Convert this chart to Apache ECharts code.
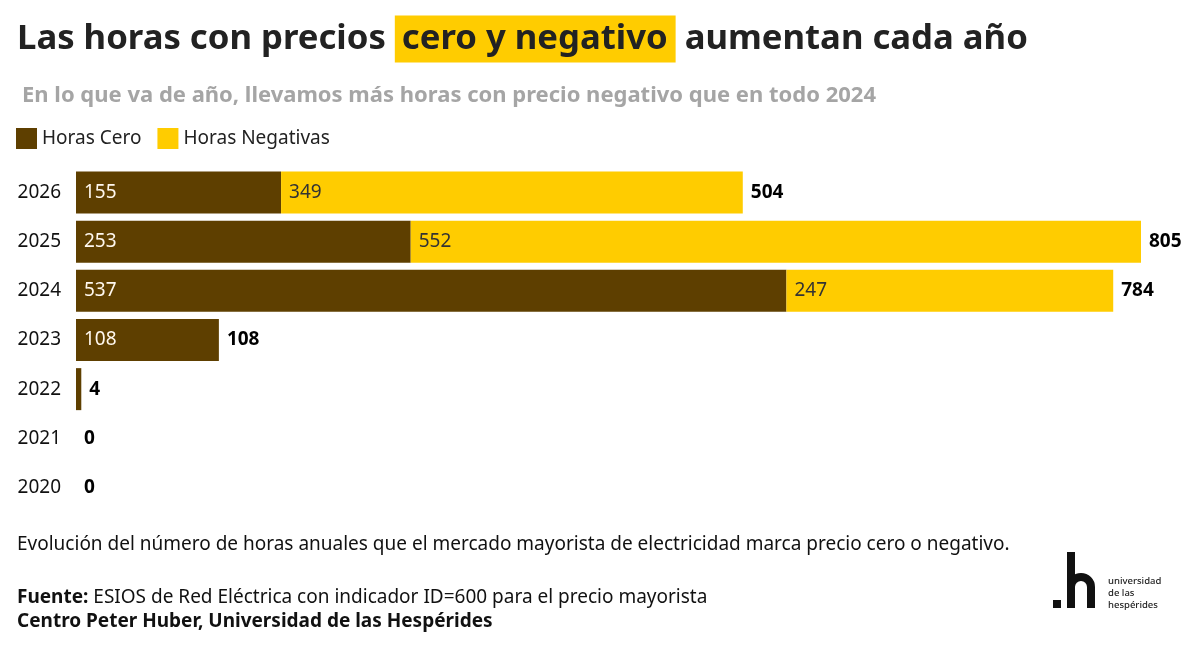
<!DOCTYPE html>
<html>
<head>
<meta charset="utf-8">
<script src="https://cdn.jsdelivr.net/npm/echarts@6/dist/echarts.min.js"></script>
<style>
  html, body { margin: 0; padding: 0; background: #fff; }
  #chart { width: 1200px; height: 655px; }
</style>
</head>
<body>
<div id="chart"></div>
<script>
// datos (abajo a arriba)
const years = ['2020', '2021', '2022', '2023', '2024', '2025', '2026'];
const horasCero = [0, 0, 4, 108, 537, 253, 155];
const horasNegativas = [0, 0, 0, 0, 247, 552, 349];
const totales = [0, 0, 4, 108, 784, 805, 504];
const xMax = 805;

const FONT = '"Noto Sans", "Open Sans", sans-serif';
const BROWN = '#5e3f00';
const YELLOW = '#ffcc00';

const chart = echarts.init(document.getElementById('chart'));

chart.setOption({
  backgroundColor: '#fff',
  textStyle: { fontFamily: FONT },
  title: [
    {
      left: 12,
      top: 16,
      text: '{a|Las horas con precios }{b|cero y negativo}{a| aumentan cada año}',
      textStyle: {
        rich: {
          a: { fontFamily: FONT, fontSize: 34.7, fontWeight: 'bold', color: '#222', lineHeight: 36 },
          b: {
            fontFamily: FONT, fontSize: 34.7, fontWeight: 'bold', color: '#222', lineHeight: 36,
            backgroundColor: YELLOW, padding: [6, 8, 6, 7]
          }
        }
      }
    },
    {
      left: 17,
      top: 80,
      text: 'En lo que va de año, llevamos más horas con precio negativo que en todo 2024',
      textStyle: { fontFamily: FONT, fontSize: 22, fontWeight: 'bold', color: '#a5a5a5' }
    }
  ],
  legend: {
    left: 11,
    top: 123,
    icon: 'rect',
    itemWidth: 21,
    itemHeight: 21,
    itemGap: 16,
    selectedMode: false,
    data: ['Horas Cero', 'Horas Negativas'],
    textStyle: { fontFamily: FONT, fontSize: 19, color: '#222', padding: [0, 0, 0, 0] }
  },
  grid: { left: 76, right: 59, top: 168, bottom: 143 },
  xAxis: {
    type: 'value',
    min: 0,
    max: xMax,
    show: false
  },
  yAxis: {
    type: 'category',
    data: years,
    axisLine: { show: false },
    axisTick: { show: false },
    axisLabel: { fontFamily: FONT, fontSize: 19, color: '#111', margin: 15 }
  },
  series: [
    {
      name: 'Horas Cero',
      type: 'bar',
      stack: 'h',
      barWidth: 42,
      data: horasCero,
      itemStyle: { color: BROWN },
      label: {
        show: true,
        position: 'insideLeft',
        distance: 8,
        fontFamily: FONT,
        fontSize: 19,
        color: '#fff8ee',
        formatter: p => (p.value >= 30 ? p.value : '')
      }
    },
    {
      name: 'Horas Negativas',
      type: 'bar',
      stack: 'h',
      barWidth: 42,
      data: horasNegativas,
      itemStyle: { color: YELLOW },
      label: {
        show: true,
        position: 'insideLeft',
        distance: 8,
        fontFamily: FONT,
        fontSize: 19,
        color: '#333',
        formatter: p => (p.value > 0 ? p.value : '')
      }
    },
    {
      // serie auxiliar para el total a la derecha
      name: 'Total',
      type: 'bar',
      stack: 'h',
      barWidth: 42,
      data: totales.map(() => 0),
      itemStyle: { color: 'transparent' },
      label: {
        show: true,
        position: 'right',
        distance: 8,
        fontFamily: FONT,
        fontSize: 19,
        fontWeight: 'bold',
        color: '#000',
        formatter: p => totales[p.dataIndex]
      },
      silent: true
    }
  ],
  graphic: [
    {
      type: 'text',
      x: 17,
      y: 545,
      style: {
        text: 'Evolución del número de horas anuales que el mercado mayorista de electricidad marca precio cero o negativo.',
        font: '19px ' + FONT,
        fill: '#111',
        verticalAlign: 'middle'
      }
    },
    {
      type: 'text',
      x: 17,
      y: 598,
      style: {
        text: '{b|Fuente:} ESIOS de Red Eléctrica con indicador ID=600 para el precio mayorista',
        font: '19px ' + FONT,
        fill: '#111',
        verticalAlign: 'middle',
        rich: { b: { fontWeight: 'bold', fontSize: 19, fontFamily: FONT, fill: '#111' } }
      }
    },
    {
      type: 'text',
      x: 17,
      y: 622,
      style: {
        text: 'Centro Peter Huber, Universidad de las Hespérides',
        font: 'bold 19px ' + FONT,
        fill: '#111',
        verticalAlign: 'middle'
      }
    },
    // logo ".h"
    { type: 'rect', shape: { x: 1053, y: 600, width: 8, height: 8 }, style: { fill: '#111' } },
    { type: 'rect', shape: { x: 1067, y: 552, width: 8, height: 56 }, style: { fill: '#111' } },
    { type: 'rect', shape: { x: 1087, y: 587, width: 8, height: 21 }, style: { fill: '#111' } },
    {
      type: 'arc',
      shape: { cx: 1081, cy: 587, r: 10, startAngle: Math.PI, endAngle: Math.PI * 2, clockwise: true },
      style: { stroke: '#111', lineWidth: 8, fill: null }
    },
    { type: 'text', x: 1108, y: 581, style: { text: 'universidad', font: '500 9.5px ' + FONT, fill: '#222', verticalAlign: 'middle' } },
    { type: 'text', x: 1108, y: 593, style: { text: 'de las', font: '500 9.5px ' + FONT, fill: '#222', verticalAlign: 'middle' } },
    { type: 'text', x: 1108, y: 605, style: { text: 'hespérides', font: '500 9.5px ' + FONT, fill: '#222', verticalAlign: 'middle' } }
  ]
});
</script>
</body>
</html>
